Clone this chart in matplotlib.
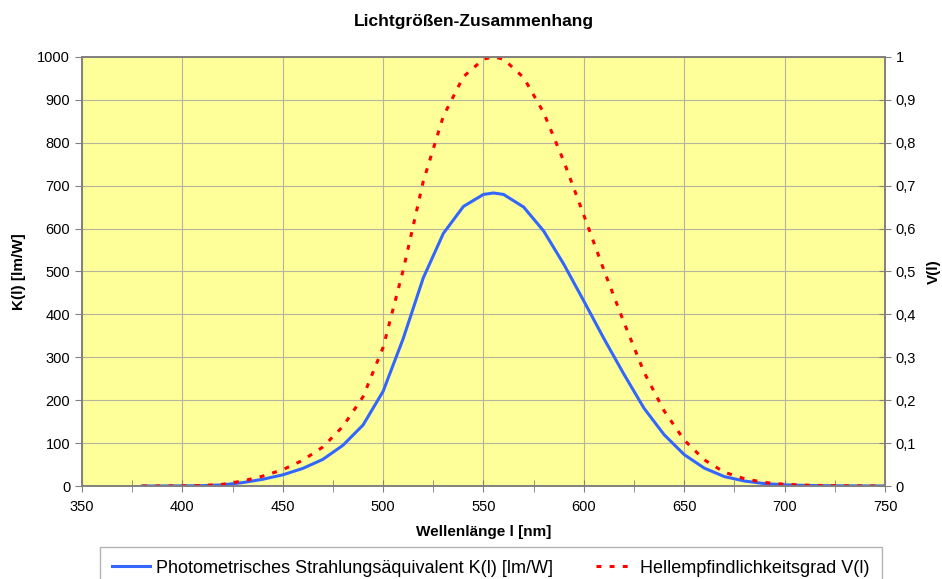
import matplotlib
matplotlib.use("Agg")
import matplotlib.pyplot as plt
from matplotlib.ticker import MultipleLocator, FuncFormatter

plt.rcParams['font.family'] = ['Liberation Sans', 'DejaVu Sans']

# Wellenlänge [nm] und Hellempfindlichkeitsgrad V(l)
wellenlaenge = [380, 390, 400, 410, 420, 430, 440, 450, 460, 470, 480, 490, 500,
                510, 520, 530, 540, 550, 555, 560, 570, 580, 590, 600, 610, 620,
                630, 640, 650, 660, 670, 680, 690, 700, 710, 720, 730, 740, 750]
v_lambda = [0.00004, 0.00012, 0.0004, 0.0012, 0.004, 0.0116, 0.023, 0.038, 0.06,
            0.091, 0.139, 0.208, 0.323, 0.503, 0.71, 0.862, 0.954, 0.995, 1.0,
            0.995, 0.952, 0.87, 0.757, 0.631, 0.503, 0.381, 0.265, 0.175, 0.107,
            0.061, 0.032, 0.017, 0.0082, 0.0041, 0.0021, 0.00105, 0.00052,
            0.00025, 0.00012]
# Photometrisches Strahlungsäquivalent K(l) [lm/W]
k_lambda = [0.027, 0.082, 0.27, 0.82, 2.7, 7.9, 15.7, 26.0, 41.0,
            62.1, 94.9, 142.1, 220.6, 343.5, 484.9, 588.7, 651.6, 679.6, 683.0,
            679.6, 650.2, 594.2, 517.0, 431.0, 343.5, 260.2, 181.0, 119.5, 73.1,
            41.7, 21.9, 11.6, 5.6, 2.8, 1.4, 0.72, 0.36, 0.17, 0.08]

fig = plt.figure(figsize=(9.42, 5.79), dpi=100)
ax = fig.add_axes([0.087, 0.1606, 0.8525, 0.741])
ax.set_facecolor('#FFFF99')

ax.plot(wellenlaenge, k_lambda, color='#3366FF', lw=2.2, zorder=3,
        label='Photometrisches Strahlungsäquivalent K(l) [lm/W]')
ax.set_xlim(350, 750)
ax.set_ylim(0, 1000)
ax.xaxis.set_major_locator(MultipleLocator(50))
ax.xaxis.set_minor_locator(MultipleLocator(25))
ax.yaxis.set_major_locator(MultipleLocator(100))
ax.grid(True, which='major', color='#b4b4a0', lw=0.8)
ax.set_axisbelow(True)

ax2 = ax.twinx()
ax2.plot(wellenlaenge, v_lambda, color='#FF0000', lw=2.2, dashes=(1.6, 2.7),
         label='Hellempfindlichkeitsgrad V(l)')
ax2.set_ylim(0, 1)
ax2.yaxis.set_major_locator(MultipleLocator(0.1))
ax2.yaxis.set_major_formatter(FuncFormatter(
    lambda v, p: '0' if abs(v) < 1e-9 else ('1' if abs(v - 1) < 1e-9 else f'{v:.1f}'.replace('.', ','))))

for a in (ax, ax2):
    for s in a.spines.values():
        s.set_color('#808080')
        s.set_linewidth(1.2)

ax.tick_params(axis='both', which='both', colors='#808080', labelcolor='black',
               labelsize=10.5, length=5)
ax.tick_params(axis='x', which='both', direction='inout', length=8, pad=6)
ax2.tick_params(axis='y', colors='#808080', labelcolor='black', labelsize=10.5,
                direction='inout', length=8)

ax.set_xlabel('Wellenlänge l [nm]', fontsize=11, fontweight='bold', labelpad=8)
ax.set_ylabel('K(l) [lm/W]', fontsize=11, fontweight='bold', labelpad=8)
ax2.set_ylabel('V(l)', fontsize=11, fontweight='bold', labelpad=8)

fig.text(0.503, 0.963, 'Lichtgrößen-Zusammenhang', ha='center', va='center',
         fontsize=12.5, fontweight='bold')

h1, l1 = ax.get_legend_handles_labels()
h2, l2 = ax2.get_legend_handles_labels()
leg = fig.legend(h1 + h2, l1 + l2, ncol=2, loc='lower left',
                 bbox_to_anchor=(0.106, -0.018, 0.83, 0.07), mode='expand',
                 borderaxespad=0,
                 fontsize=13, frameon=True, fancybox=False, handlelength=2.1,
                 handletextpad=0.3, borderpad=0.7, columnspacing=1.0)
leg.get_frame().set_edgecolor('#a0a0a0')
leg.get_frame().set_linewidth(1.0)

fig.savefig('out.png', dpi=100)
